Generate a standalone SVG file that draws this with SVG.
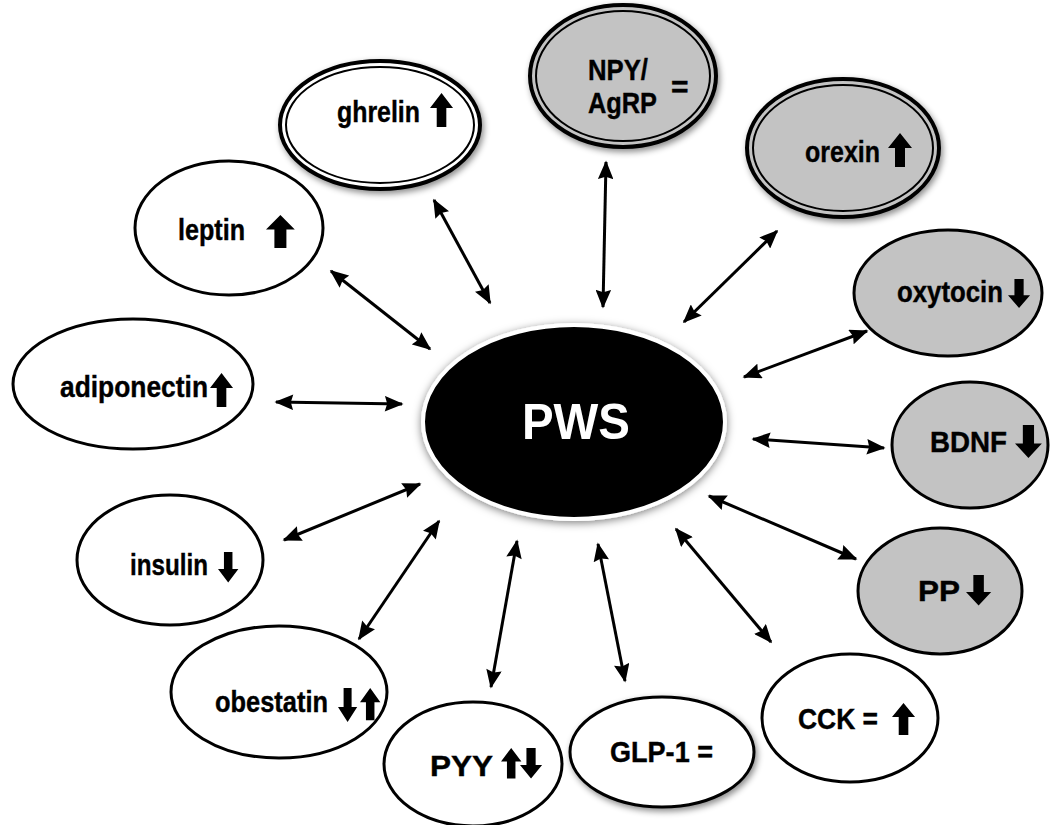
<svg xmlns="http://www.w3.org/2000/svg" xmlns:xlink="http://www.w3.org/1999/xlink" width="1050" height="825" viewBox="0 0 1050 825">
<style>
.node{fill:#fff;stroke:#000;stroke-width:3}
.dbl{stroke-width:4}
.gray{fill:#c3c3c3}
.inner{fill:none;stroke:#000;stroke-width:2}
.lbl{font-family:"Liberation Sans",Arial,Helvetica,sans-serif;font-weight:bold;font-size:30px;fill:#000;stroke:#000;stroke-width:0.4}
.conn{stroke:#000;stroke-width:3;fill:none;marker-start:url(#ah);marker-end:url(#ah)}
</style>
<defs>
<marker id="ah" viewBox="0 0 12 10" refX="11" refY="5" markerWidth="6.5" markerHeight="5.2" orient="auto-start-reverse" markerUnits="strokeWidth">
<path d="M0 0 L12 5 L0 10 L1.5 5 Z" fill="#000"/>
</marker>
<path id="up" d="M12 0 L24 15 L17 15 L17 34 L7 34 L7 15 L0 15 Z" fill="#000"/>
<path id="down" d="M12 34 L24 19 L17 19 L17 0 L7 0 L7 19 L0 19 Z" fill="#000"/>
<filter id="sh" x="-20%" y="-20%" width="140%" height="140%">
<feDropShadow dx="2" dy="3" stdDeviation="3" flood-color="#000" flood-opacity="0.45"/>
</filter>
<filter id="glow" x="-20%" y="-20%" width="140%" height="140%">
<feDropShadow dx="0" dy="2" stdDeviation="4" flood-color="#000" flood-opacity="0.5"/>
</filter>
</defs>
<rect width="1050" height="825" fill="#fff"/>

<g id="connectors">
<line class="conn" x1="434" y1="200" x2="490" y2="303"/>
<line class="conn" x1="606" y1="162" x2="603" y2="307"/>
<line class="conn" x1="777" y1="231" x2="684" y2="322"/>
<line class="conn" x1="331" y1="271" x2="430" y2="349"/>
<line class="conn" x1="867" y1="331" x2="744" y2="377"/>
<line class="conn" x1="276" y1="402" x2="402" y2="404"/>
<line class="conn" x1="753" y1="439" x2="884" y2="448"/>
<line class="conn" x1="284" y1="540" x2="420" y2="484"/>
<line class="conn" x1="709" y1="496" x2="856" y2="559"/>
<line class="conn" x1="359" y1="639" x2="439" y2="521"/>
<line class="conn" x1="517" y1="541" x2="491" y2="687"/>
<line class="conn" x1="598" y1="544" x2="625" y2="681"/>
<line class="conn" x1="676" y1="529" x2="771" y2="642"/>
</g>

<g id="pws">
<ellipse cx="574" cy="422" rx="151" ry="97" fill="#000" stroke="#fff" stroke-width="4" filter="url(#glow)"/>
<text x="576" y="439" text-anchor="middle" font-family="'Liberation Sans',Arial,sans-serif" font-weight="bold" font-size="50" fill="#fff" textLength="108" lengthAdjust="spacingAndGlyphs">PWS</text>
</g>

<g id="ghrelin">
<ellipse class="node dbl" cx="380" cy="125" rx="100" ry="64" filter="url(#sh)"/>
<ellipse class="inner" cx="380" cy="125" rx="94" ry="58"/>
<text class="lbl" x="337" y="122" textLength="83" lengthAdjust="spacingAndGlyphs">ghrelin</text>
<use xlink:href="#up" transform="translate(430,93) scale(0.96,1)"/>
</g>

<g id="npy">
<ellipse class="node gray dbl" cx="623" cy="76" rx="93" ry="71" filter="url(#sh)"/>
<ellipse class="inner" cx="623" cy="76" rx="87" ry="65"/>
<text class="lbl" x="588" y="80" textLength="60" lengthAdjust="spacingAndGlyphs">NPY/</text>
<text class="lbl" x="588" y="113" textLength="69" lengthAdjust="spacingAndGlyphs">AgRP</text>
<text class="lbl" x="671" y="97" font-size="26">=</text>
</g>

<g id="orexin">
<ellipse class="node gray dbl" cx="843" cy="148" rx="96" ry="69" filter="url(#sh)"/>
<ellipse class="inner" cx="843" cy="148" rx="90" ry="63"/>
<text class="lbl" x="805" y="162" textLength="75" lengthAdjust="spacingAndGlyphs">orexin</text>
<use xlink:href="#up" transform="translate(888,133)"/>
</g>

<g id="leptin">
<ellipse class="node" cx="229" cy="228" rx="94" ry="67"/>
<text class="lbl" x="178" y="240" textLength="67" lengthAdjust="spacingAndGlyphs">leptin</text>
<use xlink:href="#up" transform="translate(266,215) scale(1.2,0.97)"/>
</g>

<g id="oxytocin">
<ellipse class="node gray" cx="948" cy="293" rx="94" ry="63"/>
<text class="lbl" x="897" y="302" textLength="106" lengthAdjust="spacingAndGlyphs">oxytocin</text>
<use xlink:href="#down" transform="translate(1008,279) scale(0.92,0.85)"/>
</g>

<g id="adiponectin">
<ellipse class="node" cx="133" cy="384" rx="120" ry="65"/>
<text class="lbl" x="60" y="397" textLength="148" lengthAdjust="spacingAndGlyphs">adiponectin</text>
<use xlink:href="#up" transform="translate(210,373) scale(0.96,1)"/>
</g>

<g id="bdnf">
<ellipse class="node gray" cx="970" cy="445" rx="78" ry="63"/>
<text class="lbl" x="930" y="452" textLength="77" lengthAdjust="spacingAndGlyphs">BDNF</text>
<use xlink:href="#down" transform="translate(1015,425) scale(1.12,0.97)"/>
</g>

<g id="insulin">
<ellipse class="node" cx="170" cy="560" rx="93" ry="65"/>
<text class="lbl" x="130" y="575" textLength="78" lengthAdjust="spacingAndGlyphs">insulin</text>
<use xlink:href="#down" transform="translate(218,552) scale(0.85,0.9)"/>
</g>

<g id="pp">
<ellipse class="node gray" cx="940" cy="591" rx="82" ry="63"/>
<text class="lbl" x="918" y="601" textLength="42" lengthAdjust="spacingAndGlyphs">PP</text>
<use xlink:href="#down" transform="translate(966,575) scale(1.05,0.9)"/>
</g>

<g id="obestatin">
<ellipse class="node" cx="279" cy="692" rx="108" ry="66"/>
<text class="lbl" x="215" y="712" textLength="113" lengthAdjust="spacingAndGlyphs">obestatin</text>
<use xlink:href="#down" transform="translate(338,688) scale(0.8,1)"/>
<use xlink:href="#up" transform="translate(360,688) scale(0.85,0.95)"/>
</g>

<g id="pyy">
<ellipse class="node" cx="473" cy="764" rx="89" ry="62"/>
<text class="lbl" x="430" y="776" textLength="63" lengthAdjust="spacingAndGlyphs">PYY</text>
<use xlink:href="#up" transform="translate(501,748) scale(0.85,0.9)"/>
<use xlink:href="#down" transform="translate(520,748) scale(0.92,0.9)"/>
</g>

<g id="glp1">
<ellipse class="node" cx="662" cy="752" rx="92" ry="55" filter="url(#sh)"/>
<text class="lbl" x="610" y="762" textLength="103" lengthAdjust="spacingAndGlyphs">GLP-1 =</text>
</g>

<g id="cck">
<ellipse class="node" cx="850" cy="718" rx="88" ry="64"/>
<text class="lbl" x="798" y="729" textLength="80" lengthAdjust="spacingAndGlyphs">CCK =</text>
<use xlink:href="#up" transform="translate(892,703) scale(0.96,0.94)"/>
</g>
</svg>
